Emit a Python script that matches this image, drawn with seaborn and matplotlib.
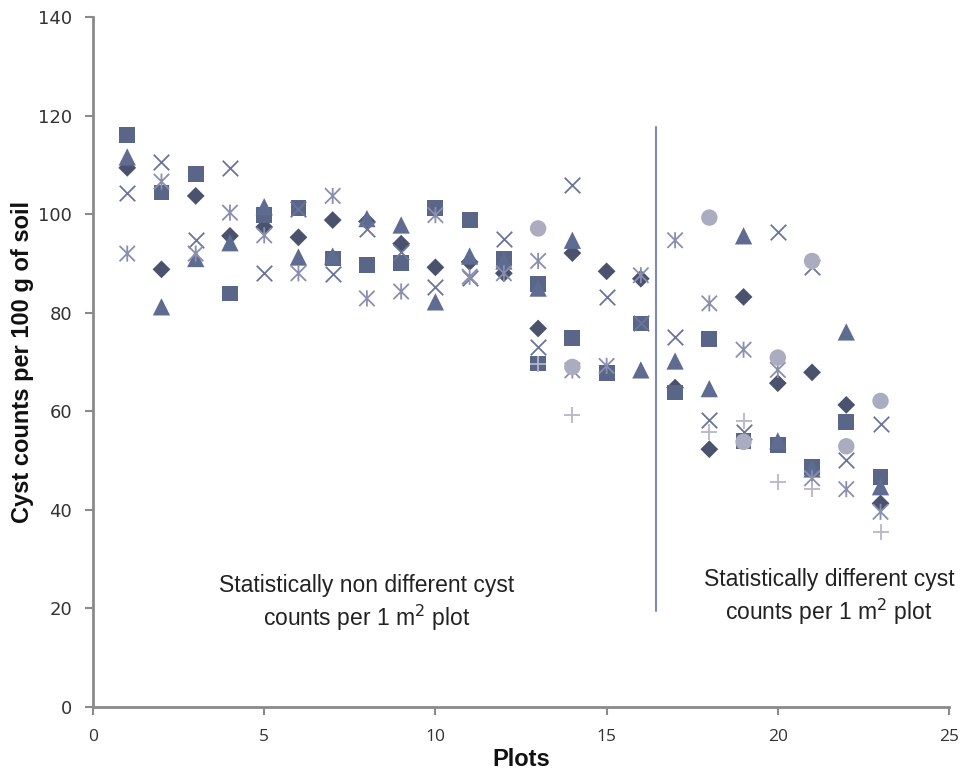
import numpy as np
import pandas as pd
import matplotlib
matplotlib.use("Agg")
import matplotlib.pyplot as plt
from matplotlib.path import Path
import seaborn as sns

nan = np.nan
plots = list(range(1, 24))

diamond = [109.4, 88.8, 103.7, 95.6, 97.4, 95.3, 98.8, 98.5, 94.0, 89.2, 90.3, 88.0,
           76.8, 92.1, 88.4, 86.9, 64.8, 52.3, 83.2, 65.7, 67.9, 61.3, 41.3]
square = [116.0, 104.4, 108.1, 83.9, 99.8, 101.3, 91.0, 89.7, 90.1, 101.3, 98.8, 91.0,
          85.8, 74.9, 67.7, 77.8, 63.8, 74.7, 54.0, 53.1, 48.7, 57.9, 46.6]
square_b = [nan] * 12 + [69.7] + [nan] * 10
triangle = [111.6, 81.2, 91.0, 94.2, 101.5, 91.3, 91.5, 99.1, 97.8, 82.2, 91.5, 90.5,
            85.0, 94.7, nan, 68.4, 70.2, 64.6, 95.6, 54.0, 48.3, 76.1, 44.7]
cross = [104.2, 110.5, 94.7, 109.4, 88.0, 101.0, 87.8, 96.9, 92.3, 85.3, 87.0, 95.0,
         73.1, 105.9, 83.2, 78.0, 75.0, 58.3, 55.8, 96.3, 89.3, 50.1, 57.5]
asterisk = [92.0, 106.6, 92.0, 100.3, 95.7, 88.0, 103.7, 82.9, 84.3, 99.8, 87.3, 88.0,
            90.5, 68.3, 69.2, 87.6, 94.7, 81.9, 72.5, 68.4, 46.4, 44.2, 39.6]
circle = [nan] * 12 + [97.1, 69.0, nan, nan, nan, 99.3, 53.8, 70.9, 90.5, 52.9, 62.1]
plus = [nan] * 12 + [69.5, 59.2, nan, nan, nan, 55.8, 58.0, 45.7, 44.3, nan, 35.6]

x_ticks = [0, 5, 10, 15, 20, 25]
y_ticks = [0, 20, 40, 60, 80, 100, 120, 140]
divider_x = 16.45
divider_y = (19.5, 117.6)
left_text = "Statistically non different cyst\ncounts per 1 m$^{2}$ plot"
right_text = "Statistically different cyst\ncounts per 1 m$^{2}$ plot"
xlabel = "Plots"
ylabel = "Cyst counts per 100 g of soil"

sns.set_style("white")
plt.rcParams["font.family"] = ["Liberation Sans", "DejaVu Sans"]

fig = plt.figure(figsize=(9.66, 7.8), dpi=100)
ax = fig.add_axes([93 / 966, 1 - 707 / 780, (949 - 93) / 966, (707 - 17) / 780])

ast_path = Path(
    [(-1, -1), (1, 1), (-1, 1), (1, -1), (0, -1.05), (0, 1.05)],
    [Path.MOVETO, Path.LINETO, Path.MOVETO, Path.LINETO, Path.MOVETO, Path.LINETO],
)

series = [
    ("diamond", diamond, "D", 82, "#4a526e", True),
    ("square", square, "s", 130, "#5a6688", True),
    ("square_b", square_b, "s", 130, "#5a6688", True),
    ("triangle", triangle, "^", 155, "#5e6c91", True),
    ("cross", cross, "x", 125, "#6b759b", False),
    ("asterisk", asterisk, ast_path, 135, "#8a8fb0", "path"),
    ("circle", circle, "o", 140, "#acacc0", True),
    ("plus", plus, "+", 135, "#b6b6c8", False),
]

for name, vals, mk, size, col, filled in series:
    df = pd.DataFrame({"plot": plots, "count": vals}).dropna()
    if filled is True:
        sns.scatterplot(data=df, x="plot", y="count", marker=mk, s=size,
                        color=col, edgecolor="none", linewidth=0, ax=ax, zorder=3)
    elif filled == "path":
        sns.scatterplot(data=df, x="plot", y="count", marker=mk, s=size,
                        color=col, facecolor="none", edgecolor=col,
                        linewidth=1.3, ax=ax, zorder=3)
    else:
        sns.scatterplot(data=df, x="plot", y="count", marker=mk, s=size,
                        color=col, linewidth=1.3, ax=ax, zorder=3)

ax.plot([divider_x, divider_x], list(divider_y), color="#7e8bb0", lw=1.5, zorder=2)

ax.text(8.0, 21.0, left_text, ha="center", va="center", fontsize=16.5,
        color="#222222", linespacing=1.25)
ax.text(21.5, 22.3, right_text, ha="center", va="center", fontsize=16.5,
        color="#222222", linespacing=1.25, clip_on=False)

ax.set_xlim(0, 25)
ax.set_ylim(0, 140)
ax.set_xticks(x_ticks)
ax.set_yticks(y_ticks)
ax.set_xticklabels([str(t) for t in x_ticks], fontfamily="Open Sans", fontsize=12.5,
                   color="#333333")
ax.set_yticklabels([str(t) for t in y_ticks], fontfamily="DejaVu Sans", fontsize=13,
                   color="#333333")
ax.tick_params(axis="both", direction="out", length=6, width=1.5, color="#8a8a8a",
               bottom=True, left=True)
ax.tick_params(axis="x", pad=10)
ax.tick_params(axis="y", pad=9)

for sp in ["top", "right"]:
    ax.spines[sp].set_visible(False)
for sp in ["left", "bottom"]:
    ax.spines[sp].set_color("#8a8a8a")
    ax.spines[sp].set_linewidth(2)

ax.set_xlabel(xlabel, fontsize=17, fontweight="bold", color="#111111", labelpad=2)
ax.set_ylabel(ylabel, fontsize=17, fontweight="bold", color="#111111", labelpad=3)

fig.savefig("out.png", dpi=100, facecolor="white")
